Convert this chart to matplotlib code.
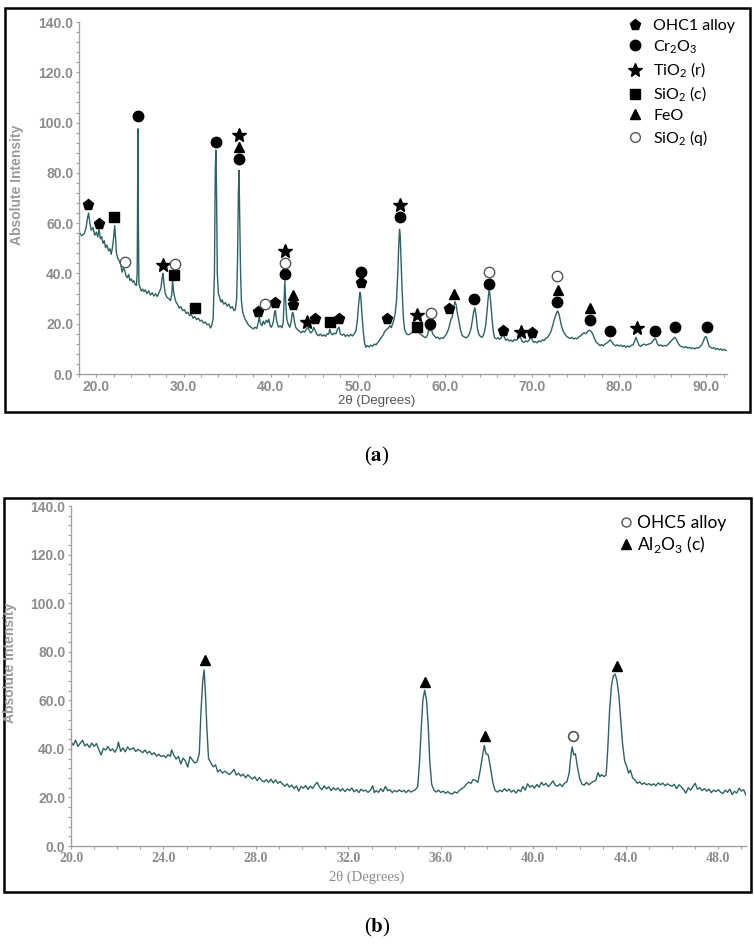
import matplotlib.pyplot as plt
from matplotlib.lines import Line2D
from matplotlib.patches import Rectangle
from matplotlib.ticker import MultipleLocator, FormatStrFormatter

# (a) OHC1 pattern: (2theta, intensity)
trace_a = [
    (18.0, 56.5), (18.3, 55.0), (18.6, 55.8), (18.8, 58.0), (19.0, 62.5), (19.1, 64.0), (19.25, 60.0),
    (19.4, 57.2), (19.6, 58.3), (19.8, 55.2), (20.0, 56.4), (20.15, 54.5), (20.3, 57.6), (20.45, 53.8),
    (20.6, 54.6), (20.75, 52.0), (20.9, 53.0), (21.05, 50.2), (21.2, 51.3), (21.4, 49.0), (21.55, 49.8),
    (21.7, 47.6), (21.85, 50.5), (22.0, 55.0), (22.1, 59.0), (22.2, 54.0), (22.3, 48.0), (22.45, 46.0),
    (22.6, 45.2), (22.8, 43.5), (22.95, 40.5), (23.1, 42.0), (23.25, 41.2), (23.4, 39.0), (23.55, 38.3),
    (23.7, 39.6), (23.85, 37.2), (24.0, 37.8), (24.15, 36.5), (24.3, 37.1), (24.45, 35.6), (24.6, 35.2),
    (24.68, 40.0), (24.73, 70.0), (24.77, 97.5), (24.82, 60.0), (24.88, 36.0), (25.0, 34.5), (25.15, 33.0),
    (25.3, 33.8), (25.45, 32.8), (25.6, 33.5), (25.8, 32.0), (26.0, 33.1), (26.2, 31.4), (26.4, 32.3),
    (26.6, 31.0), (26.8, 31.9), (27.0, 30.8), (27.2, 32.5), (27.4, 34.0), (27.55, 38.5), (27.65, 40.0),
    (27.75, 36.0), (27.9, 32.0), (28.1, 30.5), (28.3, 30.0), (28.5, 29.2), (28.65, 31.5), (28.75, 37.5),
    (28.85, 33.0), (29.0, 30.2), (29.15, 28.5), (29.3, 27.8), (29.5, 26.2), (29.7, 26.8), (29.9, 25.2),
    (30.1, 25.6), (30.3, 24.1), (30.5, 24.6), (30.7, 23.2), (30.9, 23.6), (31.1, 22.2), (31.3, 22.8),
    (31.5, 21.6), (31.7, 22.2), (31.9, 21.1), (32.1, 21.4), (32.3, 20.2), (32.5, 20.7), (32.7, 19.6),
    (32.9, 19.9), (33.1, 18.3), (33.25, 19.5), (33.4, 22.0), (33.55, 40.0), (33.65, 82.0), (33.72, 89.0),
    (33.8, 70.0), (33.88, 40.0), (34.0, 32.0), (34.15, 30.5), (34.3, 28.6), (34.45, 29.5), (34.6, 27.8),
    (34.8, 28.4), (35.0, 27.0), (35.2, 27.8), (35.4, 26.2), (35.6, 26.8), (35.8, 25.2), (35.95, 25.6),
    (36.1, 30.0), (36.2, 45.0), (36.3, 72.0), (36.37, 81.0), (36.45, 62.0), (36.55, 40.0), (36.65, 29.0),
    (36.8, 24.5), (37.0, 22.3), (37.2, 21.0), (37.4, 19.8), (37.6, 19.0), (37.8, 18.5), (38.0, 17.9),
    (38.2, 18.6), (38.4, 18.1), (38.55, 20.0), (38.7, 22.5), (38.85, 20.0), (39.0, 19.2), (39.15, 21.0),
    (39.3, 19.8), (39.5, 21.4), (39.65, 20.5), (39.8, 21.8), (39.95, 19.0), (40.1, 18.6), (40.3, 20.5),
    (40.45, 24.5), (40.55, 25.2), (40.7, 21.0), (40.9, 18.6), (41.1, 19.2), (41.3, 18.4), (41.45, 20.5),
    (41.55, 30.0), (41.63, 37.0), (41.72, 30.0), (41.85, 22.0), (42.0, 20.0), (42.2, 18.6), (42.35, 20.5),
    (42.5, 24.5), (42.6, 24.0), (42.75, 20.5), (42.9, 18.4), (43.1, 17.6), (43.3, 17.0), (43.5, 16.4),
    (43.7, 17.1), (43.9, 16.6), (44.1, 17.8), (44.3, 18.6), (44.45, 17.2), (44.6, 16.3), (44.8, 17.0),
    (44.95, 18.6), (45.1, 17.4), (45.3, 15.8), (45.5, 15.2), (45.7, 15.9), (45.9, 15.1), (46.1, 15.6),
    (46.3, 15.0), (46.5, 16.0), (46.65, 15.8), (46.8, 17.8), (46.95, 16.0), (47.1, 15.6), (47.3, 16.2),
    (47.5, 16.0), (47.7, 18.0), (47.85, 18.6), (48.0, 16.0), (48.2, 15.4), (48.4, 15.9), (48.6, 14.9),
    (48.8, 15.6), (49.0, 15.0), (49.2, 15.8), (49.4, 15.1), (49.6, 16.0), (49.8, 17.2), (49.95, 21.0),
    (50.1, 27.5), (50.25, 32.5), (50.35, 31.0), (50.5, 23.0), (50.65, 16.5), (50.8, 12.0), (50.95, 10.6),
    (51.1, 11.3), (51.3, 10.8), (51.5, 11.5), (51.7, 11.0), (51.9, 11.9), (52.1, 11.6), (52.3, 12.5),
    (52.5, 13.4), (52.7, 14.5), (52.9, 15.4), (53.1, 16.9), (53.3, 17.6), (53.5, 18.2), (53.7, 19.2),
    (53.85, 18.4), (54.0, 19.8), (54.15, 21.5), (54.3, 24.0), (54.45, 29.0), (54.6, 40.0), (54.72, 52.0),
    (54.8, 57.5), (54.88, 55.0), (54.98, 45.0), (55.1, 33.0), (55.25, 22.0), (55.4, 17.5), (55.6, 16.0),
    (55.8, 15.6), (56.0, 15.9), (56.2, 16.4), (56.4, 16.6), (56.6, 17.1), (56.8, 17.3), (57.0, 16.6),
    (57.2, 15.9), (57.4, 15.3), (57.6, 14.8), (57.8, 14.4), (58.0, 15.3), (58.15, 17.8), (58.3, 17.2),
    (58.45, 18.2), (58.6, 16.0), (58.8, 15.2), (59.0, 14.3), (59.2, 14.7), (59.4, 13.9), (59.6, 14.4),
    (59.8, 14.2), (60.0, 15.0), (60.2, 16.0), (60.4, 17.6), (60.55, 19.5), (60.7, 21.8), (60.85, 22.5),
    (61.0, 26.0), (61.15, 28.8), (61.3, 27.5), (61.45, 24.0), (61.6, 21.5), (61.8, 17.5), (62.0, 15.3),
    (62.2, 14.8), (62.4, 14.4), (62.6, 14.7), (62.8, 15.8), (63.0, 17.9), (63.15, 21.0), (63.3, 24.5),
    (63.45, 26.4), (63.6, 23.0), (63.75, 18.0), (63.9, 15.8), (64.1, 14.9), (64.3, 14.6), (64.5, 16.0),
    (64.7, 19.5), (64.85, 25.0), (65.0, 31.0), (65.1, 33.6), (65.25, 29.5), (65.4, 23.0), (65.55, 17.5),
    (65.7, 14.5), (65.9, 14.0), (66.1, 14.4), (66.3, 13.8), (66.5, 14.5), (66.7, 15.9), (66.85, 14.5),
    (67.0, 13.4), (67.2, 13.9), (67.4, 13.1), (67.6, 13.5), (67.8, 12.9), (68.0, 13.8), (68.2, 13.4),
    (68.4, 14.1), (68.6, 15.3), (68.75, 14.0), (68.9, 12.9), (69.1, 12.6), (69.3, 13.2), (69.5, 12.8),
    (69.7, 13.6), (69.9, 14.7), (70.05, 13.5), (70.2, 12.6), (70.4, 12.9), (70.6, 12.4), (70.8, 13.2),
    (71.0, 12.8), (71.2, 13.6), (71.4, 13.3), (71.6, 14.2), (71.8, 14.6), (72.0, 15.6), (72.2, 17.0),
    (72.4, 19.5), (72.6, 22.0), (72.8, 24.0), (72.95, 25.1), (73.1, 24.0), (73.25, 21.5), (73.4, 19.0),
    (73.6, 17.0), (73.8, 15.8), (74.0, 14.9), (74.2, 14.5), (74.4, 14.1), (74.6, 14.6), (74.8, 13.9),
    (75.0, 14.3), (75.2, 14.0), (75.4, 14.8), (75.6, 15.2), (75.8, 15.9), (76.0, 16.4), (76.2, 16.0),
    (76.4, 16.9), (76.6, 17.4), (76.8, 17.0), (77.0, 15.8), (77.2, 14.0), (77.4, 12.6), (77.6, 12.0),
    (77.8, 11.3), (78.0, 11.7), (78.2, 11.2), (78.4, 11.9), (78.6, 12.3), (78.8, 12.9), (79.0, 13.6),
    (79.2, 12.6), (79.4, 11.7), (79.6, 11.2), (79.8, 11.6), (80.0, 11.1), (80.2, 11.5), (80.4, 10.9),
    (80.6, 11.3), (80.8, 10.6), (81.0, 11.2), (81.2, 10.7), (81.4, 11.4), (81.6, 11.6), (81.8, 13.0),
    (81.95, 14.6), (82.1, 13.2), (82.3, 11.4), (82.5, 11.0), (82.7, 11.6), (82.9, 11.9), (83.1, 11.4),
    (83.3, 11.8), (83.5, 12.0), (83.7, 12.3), (83.9, 13.2), (84.1, 14.2), (84.25, 13.6), (84.4, 12.1),
    (84.6, 11.2), (84.8, 11.6), (85.0, 11.0), (85.2, 11.4), (85.4, 11.1), (85.6, 11.7), (85.8, 12.4),
    (86.0, 13.2), (86.2, 13.9), (86.4, 14.6), (86.55, 14.0), (86.7, 12.8), (86.9, 11.6), (87.1, 11.0),
    (87.3, 10.8), (87.5, 10.5), (87.7, 10.9), (87.9, 10.3), (88.1, 10.6), (88.3, 10.1), (88.5, 10.4),
    (88.7, 10.0), (88.9, 10.5), (89.1, 10.3), (89.3, 10.8), (89.5, 11.6), (89.7, 13.2), (89.85, 14.6),
    (90.0, 14.9), (90.15, 13.5), (90.3, 11.4), (90.5, 10.6), (90.7, 10.2), (90.9, 10.5), (91.1, 9.8),
    (91.3, 10.2), (91.5, 9.6), (91.7, 10.0), (91.9, 9.4), (92.1, 9.8), (92.3, 9.3),
]

# (a) phase labels: (2theta, label height)
ohc1_alloy = [(19.06, 67.2), (20.28, 59.5), (38.6, 24.7), (40.5, 28.4), (42.56, 27.5), (45.06, 21.8),
              (47.9, 21.8), (50.4, 36.0), (53.4, 21.8), (60.5, 25.8), (66.7, 17.2), (70.0, 16.5)]
cr2o3 = [(24.77, 102.6), (33.7, 92.2), (36.4, 85.6), (41.6, 39.6), (50.4, 40.4), (54.8, 62.6),
         (58.35, 19.8), (63.4, 29.8), (65.07, 35.7), (72.9, 28.8), (76.65, 21.6), (79.0, 17.2),
         (84.1, 17.2), (86.4, 18.8), (90.1, 18.8)]
tio2_r = [(27.65, 43.4), (36.4, 94.9), (41.6, 49.0), (44.2, 20.8), (54.8, 67.2), (56.8, 23.4),
          (68.7, 16.9), (82.1, 18.1)]
sio2_c = [(22.05, 62.5), (28.87, 39.3), (31.3, 26.1), (46.8, 20.5), (56.8, 18.5)]
feo = [(36.4, 90.2), (42.56, 31.4), (61.1, 31.8), (73.0, 33.3), (76.65, 26.1)]
sio2_q = [(23.3, 44.7), (29.0, 43.9), (39.35, 27.7), (41.6, 44.3), (58.4, 24.1), (65.07, 40.4), (72.9, 38.8)]

# (b) OHC5 pattern
trace_b = [
    (20.0, 42.8), (20.1, 41.5), (20.2, 43.6), (20.3, 41.0), (20.4, 42.3), (20.5, 43.5), (20.6, 41.2),
    (20.7, 42.0), (20.8, 40.6), (20.9, 42.4), (21.0, 41.0), (21.1, 42.2), (21.2, 39.8), (21.3, 37.5),
    (21.4, 40.2), (21.5, 39.5), (21.6, 41.0), (21.7, 39.2), (21.8, 40.0), (21.9, 38.6), (22.0, 40.5),
    (22.05, 42.8), (22.15, 39.0), (22.25, 40.4), (22.35, 38.8), (22.45, 40.8), (22.55, 39.6), (22.7, 40.4),
    (22.8, 38.9), (22.9, 39.8), (23.0, 39.2), (23.1, 38.4), (23.2, 39.5), (23.3, 38.2), (23.4, 39.0),
    (23.5, 37.6), (23.6, 38.4), (23.7, 37.0), (23.8, 37.8), (23.9, 36.8), (24.0, 37.3), (24.1, 36.4),
    (24.2, 37.6), (24.3, 36.9), (24.35, 39.6), (24.45, 37.4), (24.55, 35.8), (24.65, 36.9), (24.75, 33.8),
    (24.85, 36.2), (24.95, 35.0), (25.05, 32.5), (25.15, 36.8), (25.25, 35.4), (25.35, 34.2), (25.45, 34.6),
    (25.55, 38.0), (25.62, 55.0), (25.7, 68.0), (25.76, 72.5), (25.82, 62.0), (25.88, 48.0), (25.95, 36.0),
    (26.05, 34.2), (26.15, 32.6), (26.25, 33.4), (26.35, 30.5), (26.45, 31.4), (26.55, 30.0), (26.65, 30.8),
    (26.75, 30.2), (26.85, 29.4), (26.95, 30.3), (27.05, 31.6), (27.15, 29.2), (27.25, 30.0), (27.35, 28.8),
    (27.45, 29.6), (27.55, 28.1), (27.65, 29.3), (27.75, 28.4), (27.85, 27.6), (27.95, 28.5), (28.05, 26.9),
    (28.15, 28.2), (28.25, 27.0), (28.35, 26.4), (28.45, 27.3), (28.55, 26.2), (28.65, 27.5), (28.75, 26.0),
    (28.85, 27.2), (28.95, 25.8), (29.05, 26.6), (29.15, 25.5), (29.25, 24.6), (29.35, 25.6), (29.45, 24.2),
    (29.55, 25.1), (29.65, 23.6), (29.75, 24.8), (29.85, 22.6), (29.95, 24.5), (30.05, 23.8), (30.15, 24.9),
    (30.25, 23.3), (30.35, 24.6), (30.45, 23.7), (30.55, 25.2), (30.65, 26.2), (30.75, 24.3), (30.85, 23.2),
    (30.95, 24.8), (31.05, 23.5), (31.15, 24.4), (31.25, 22.8), (31.35, 24.0), (31.45, 23.1), (31.55, 23.9),
    (31.65, 22.6), (31.75, 23.6), (31.85, 22.4), (31.95, 23.5), (32.05, 22.8), (32.15, 23.9), (32.25, 22.3),
    (32.35, 23.2), (32.45, 22.0), (32.55, 23.4), (32.65, 22.6), (32.75, 23.0), (32.85, 22.1), (32.95, 22.9),
    (33.05, 24.8), (33.12, 22.0), (33.2, 22.8), (33.3, 22.1), (33.4, 23.6), (33.5, 22.4), (33.6, 24.5),
    (33.7, 22.8), (33.8, 23.2), (33.9, 22.0), (34.0, 22.9), (34.1, 22.3), (34.2, 23.1), (34.3, 22.4),
    (34.4, 22.9), (34.5, 22.0), (34.6, 23.0), (34.7, 22.2), (34.8, 22.7), (34.9, 23.2), (35.0, 24.5),
    (35.08, 35.0), (35.15, 48.0), (35.22, 60.0), (35.3, 64.2), (35.38, 60.0), (35.45, 50.0), (35.52, 35.0),
    (35.6, 25.5), (35.7, 23.0), (35.8, 22.2), (35.9, 23.0), (36.0, 22.0), (36.1, 22.6), (36.2, 21.7),
    (36.3, 22.4), (36.4, 21.6), (36.5, 21.4), (36.6, 22.3), (36.7, 21.8), (36.8, 22.9), (36.9, 23.6),
    (37.0, 24.2), (37.1, 25.4), (37.2, 26.3), (37.3, 25.8), (37.4, 27.4), (37.5, 27.0), (37.6, 26.2),
    (37.7, 31.0), (37.8, 37.0), (37.88, 41.4), (37.95, 38.0), (38.05, 37.5), (38.15, 32.0), (38.25, 26.0),
    (38.35, 22.8), (38.45, 22.2), (38.55, 23.0), (38.65, 22.4), (38.75, 23.6), (38.85, 22.6), (38.95, 23.4),
    (39.05, 22.2), (39.15, 23.0), (39.25, 21.8), (39.35, 23.2), (39.45, 22.4), (39.55, 24.5), (39.65, 23.0),
    (39.75, 25.6), (39.85, 24.2), (39.95, 24.9), (40.05, 23.8), (40.15, 25.3), (40.25, 24.2), (40.35, 26.2),
    (40.45, 25.0), (40.55, 25.8), (40.65, 24.4), (40.75, 25.5), (40.85, 26.8), (40.95, 25.0), (41.05, 24.6),
    (41.15, 25.6), (41.25, 24.5), (41.35, 25.9), (41.45, 26.4), (41.55, 30.0), (41.62, 37.0), (41.68, 40.8),
    (41.75, 37.5), (41.82, 38.0), (41.9, 33.0), (42.0, 28.0), (42.1, 25.5), (42.2, 25.0), (42.3, 26.2),
    (42.4, 25.2), (42.5, 26.0), (42.6, 26.6), (42.7, 27.0), (42.8, 30.2), (42.88, 28.5), (42.95, 29.4),
    (43.05, 28.6), (43.15, 29.2), (43.22, 40.0), (43.3, 56.0), (43.38, 66.0), (43.46, 70.0), (43.54, 70.8),
    (43.62, 68.0), (43.7, 62.0), (43.78, 52.0), (43.86, 42.0), (43.95, 35.0), (44.05, 32.5), (44.12, 30.0),
    (44.2, 31.2), (44.3, 28.0), (44.4, 27.2), (44.5, 25.8), (44.6, 26.4), (44.7, 25.4), (44.8, 26.0),
    (44.9, 25.2), (45.0, 25.7), (45.1, 25.0), (45.2, 25.6), (45.3, 24.8), (45.4, 26.0), (45.5, 25.2),
    (45.6, 25.9), (45.7, 24.8), (45.8, 25.6), (45.9, 25.0), (46.0, 24.6), (46.1, 25.4), (46.2, 23.6),
    (46.3, 25.2), (46.4, 24.4), (46.5, 23.2), (46.6, 21.8), (46.7, 24.0), (46.8, 23.0), (46.9, 24.4),
    (47.0, 25.8), (47.1, 23.4), (47.2, 24.0), (47.3, 22.8), (47.4, 23.6), (47.5, 22.6), (47.6, 23.4),
    (47.7, 22.0), (47.8, 23.0), (47.9, 22.4), (48.0, 23.2), (48.1, 22.2), (48.2, 21.6), (48.3, 23.0),
    (48.4, 22.1), (48.5, 23.4), (48.6, 21.2), (48.7, 22.5), (48.8, 21.8), (48.9, 23.8), (49.0, 22.6),
    (49.1, 23.2), (49.2, 20.9),
]
ohc5_alloy = [(41.7, 45.2)]
al2o3_c = [(25.8, 76.4), (35.3, 67.5), (37.9, 45.2), (43.6, 74.1)]

W, H = 754, 944
LINE = '#2d6363'
TICK = '#8c8c8c'


def fx(px):
    return px / W


def fy(py):
    return 1 - py / H


def style_axes(ax, xlim, xmajor, xminor, xfont):
    ax.set_xlim(*xlim)
    ax.set_ylim(0, 140)
    for s in ['top', 'right']:
        ax.spines[s].set_visible(False)
    for s in ['left', 'bottom']:
        ax.spines[s].set_color('#a0a0a0')
        ax.spines[s].set_linewidth(1.0)
    ax.xaxis.set_major_locator(MultipleLocator(xmajor))
    ax.xaxis.set_minor_locator(MultipleLocator(xminor))
    ax.yaxis.set_major_locator(MultipleLocator(20))
    ax.yaxis.set_minor_locator(MultipleLocator(4))
    ax.xaxis.set_major_formatter(FormatStrFormatter('%.1f'))
    ax.yaxis.set_major_formatter(FormatStrFormatter('%.1f'))
    ax.tick_params(which='both', direction='out', length=2.5, width=0.8, color='#a0a0a0',
                   labelcolor=TICK, labelsize=10, pad=1.5)
    for lab in ax.get_yticklabels():
        lab.set_fontweight('bold')
        lab.set_family('Liberation Sans')
    for lab in ax.get_xticklabels():
        lab.set_fontweight('bold')
        lab.set_family(xfont)


def put(ax, pts, **kw):
    ax.plot([p[0] for p in pts], [p[1] for p in pts], linestyle='none', **kw)


fig = plt.figure(figsize=(W / 100, H / 100), dpi=100)

# ---- panel (a)
ax1 = fig.add_axes([fx(79), fy(374), fx(727) - fx(79), fy(22) - fy(374)])
ax1.plot([p[0] for p in trace_a], [p[1] for p in trace_a], color=LINE, lw=1.0)
style_axes(ax1, (18.0, 92.4), 10, 2, 'Liberation Sans')

put(ax1, ohc1_alloy, marker='p', color='k', ms=8)
put(ax1, cr2o3, marker='o', color='k', ms=7.5)
put(ax1, tio2_r, marker='*', color='k', ms=10)
put(ax1, sio2_c, marker='s', color='k', ms=7)
put(ax1, feo, marker='^', color='k', ms=7)
put(ax1, sio2_q, marker='o', mfc='white', mec='#555555', mew=1.0, ms=7.5)

sub = r'$_\mathregular{%s}$'
handles_a = [
    Line2D([], [], marker='p', color='k', ls='none', ms=8),
    Line2D([], [], marker='o', color='k', ls='none', ms=7.5),
    Line2D([], [], marker='*', color='k', ls='none', ms=10),
    Line2D([], [], marker='s', color='k', ls='none', ms=7),
    Line2D([], [], marker='^', color='k', ls='none', ms=7),
    Line2D([], [], marker='o', mfc='white', mec='#555555', mew=1.0, ls='none', ms=7),
]
labels_a = ['OHC1 alloy', 'Cr' + sub % 2 + 'O' + sub % 3, 'TiO' + sub % 2 + ' (r)',
            'SiO' + sub % 2 + ' (c)', 'FeO', 'SiO' + sub % 2 + ' (q)']
fig.legend(handles_a, labels_a, loc='upper left', bbox_to_anchor=(fx(627), fy(19)),
           frameon=False, prop={'family': 'Lato', 'size': 11.5}, handlelength=1.0,
           handletextpad=0.65, labelspacing=0.3, borderpad=0, borderaxespad=0)

fig.text(fx(17), fy(185), 'Absolute Intensity', rotation=90, ha='center', va='center',
         color='#9a9a9a', fontsize=10, fontweight='bold', family='Liberation Sans')
fig.text(fx(377), fy(401), '2θ (Degrees)', ha='center', va='center', color='#555555',
         fontsize=9.5, family='Liberation Sans')
fig.add_artist(Rectangle((fx(5), fy(412)), fx(750) - fx(5), fy(8) - fy(412), transform=fig.transFigure,
                         fill=False, ec='black', lw=1.8))
fig.text(fx(377), fy(456), r'($\mathbf{a}$)', ha='center', va='center', fontsize=15,
         family='Liberation Serif', math_fontfamily='stix')

# ---- panel (b)
ax2 = fig.add_axes([fx(71), fy(846), fx(746) - fx(71), fy(506) - fy(846)])
ax2.plot([p[0] for p in trace_b], [p[1] for p in trace_b], color=LINE, lw=1.0)
style_axes(ax2, (20.0, 49.2), 4, 1, 'Liberation Serif')

put(ax2, al2o3_c, marker='^', color='k', ms=7)
put(ax2, ohc5_alloy, marker='o', mfc='white', mec='#555555', mew=1.2, ms=7)

handles_b = [
    Line2D([], [], marker='o', mfc='white', mec='#555555', mew=1.0, ls='none', ms=6.5),
    Line2D([], [], marker='^', color='k', ls='none', ms=6.5),
]
labels_b = ['OHC5 alloy', 'Al' + sub % 2 + 'O' + sub % 3 + ' (c)']
fig.legend(handles_b, labels_b, loc='upper left', bbox_to_anchor=(fx(622), fy(515)),
           frameon=False, prop={'family': 'Lato', 'size': 12.5}, handlelength=0.5,
           handletextpad=0.35, labelspacing=0.2, borderpad=0, borderaxespad=0)

fig.text(fx(10), fy(663), 'Absolute Intensity', rotation=90, ha='center', va='center',
         color='#9a9a9a', fontsize=10, fontweight='bold', family='Liberation Sans')
fig.text(fx(367), fy(877), '2θ (Degrees)', ha='center', va='center', color='#8c8c8c',
         fontsize=10.5, family='Liberation Serif')
fig.add_artist(Rectangle((fx(4), fy(892)), fx(751) - fx(4), fy(498) - fy(892), transform=fig.transFigure,
                         fill=False, ec='black', lw=1.8))
fig.text(fx(377), fy(927), r'($\mathbf{b}$)', ha='center', va='center', fontsize=15,
         family='Liberation Serif', math_fontfamily='stix')

fig.savefig('out.png', dpi=100)
